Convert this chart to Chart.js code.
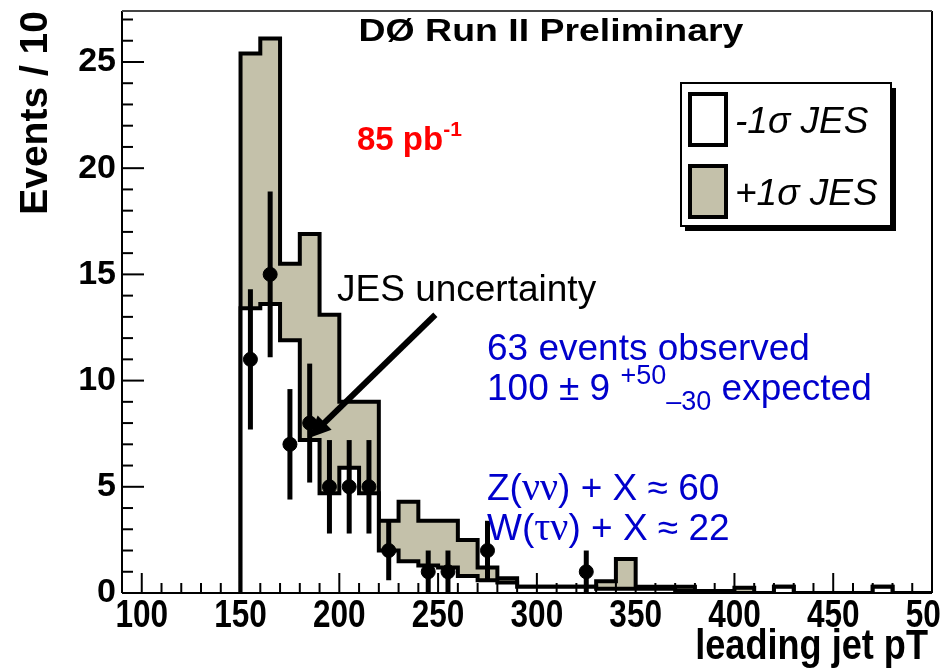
<!DOCTYPE html>
<html>
<head>
<meta charset="utf-8">
<script src="https://cdn.jsdelivr.net/npm/chart.js@4.4.1/dist/chart.umd.min.js"></script>
<style>
  html, body { margin: 0; padding: 0; background: #fff; }
  canvas { display: block; }
</style>
</head>
<body>
<canvas id="canvas" width="940" height="671"></canvas>
<script>
// leading jet pT histogram, 10 GeV bins
const binLow = [150, 160, 170, 180, 190, 200, 210, 220, 230, 240, 250, 260, 270, 280, 290, 300, 310,
                320, 330, 340, 350, 360, 370, 380, 390, 400, 410, 420, 430, 440, 450, 460, 470, 480, 490];
const binWidth = 10;
const jesDown = [13.4, 13.6, 11.9, 7.2, 4.7, 5.9, 4.7, 2.0, 1.5, 1.3, 1.2, 0.8, 0.6, 0.5, 0.3, 0.3, 0.3,
                 0.3, 0.2, 0.2, 0.2, 0.2, 0.1, 0.1, 0.0, 0.0, 0.0, 0.3, 0.0, 0.0, 0.0, 0.0, 0.3, 0.0, 0.0];
const jesUp = [25.4, 26.1, 15.5, 16.9, 13.1, 9.0, 9.0, 3.4, 4.3, 3.4, 3.4, 2.5, 1.2, 0.7, 0.3, 0.3, 0.3,
               0.3, 0.55, 1.6, 0.3, 0.3, 0.3, 0.1, 0.1, 0.25, 0.0, 0.3, 0.0, 0.0, 0.0, 0.0, 0.3, 0.0, 0.0];

// observed events
const dataX = [155, 165, 175, 185, 195, 205, 215, 225, 245, 255, 275, 325];
const dataY = [11, 15, 7, 8, 5, 5, 5, 2, 1, 1, 2, 1];
const dataErr = [3.3, 3.9, 2.6, 2.8, 2.2, 2.2, 2.2, 1.4, 1.0, 1.0, 1.4, 1.0];

const xTicks = [100, 150, 200, 250, 300, 350, 400, 450, 500];
const xTickLabels = ['100', '150', '200', '250', '300', '350', '400', '450', '500'];
const yTicks = [0, 5, 10, 15, 20, 25];

const TAN = '#c4c1aa';
const BLUE = '#0000cc';
const SANS = "'Liberation Sans', Arial, sans-serif";
const SERIF = "'Liberation Serif', 'DejaVu Serif', serif";

function histPoints(values) {
  const pts = [{ x: binLow[0], y: 0 }];
  binLow.forEach((lo, i) => pts.push({ x: lo, y: values[i] }));
  pts.push({ x: binLow[binLow.length - 1] + binWidth, y: 0 });
  return pts;
}

function line(ctx, x1, y1, x2, y2) {
  ctx.beginPath();
  ctx.moveTo(x1, y1);
  ctx.lineTo(x2, y2);
  ctx.stroke();
}

// text squeezed or stretched horizontally by sx
function scaledText(ctx, text, x, y, font, sx, align) {
  ctx.save();
  ctx.translate(x, y);
  ctx.scale(sx, 1);
  ctx.font = font;
  ctx.textAlign = align;
  ctx.textBaseline = 'alphabetic';
  ctx.fillText(text, 0, 0);
  ctx.restore();
}

// ROOT-style ticks inside the frame, plus the frame itself
const frameTicks = {
  id: 'frameTicks',
  afterDatasetsDraw(chart) {
    const { ctx, chartArea: a, scales: { x, y } } = chart;
    ctx.save();
    ctx.strokeStyle = '#000';
    ctx.lineWidth = 2;
    for (let v = x.min; v <= x.max; v += 10) {
      const px = x.getPixelForValue(v);
      const len = xTicks.includes(v) ? 20 : 10;
      line(ctx, px, a.bottom, px, a.bottom - len);
    }
    for (let v = 0; v <= y.max; v += 1) {
      const py = y.getPixelForValue(v);
      const len = yTicks.includes(v) ? 22 : 11;
      line(ctx, a.left, py, a.left + len, py);
    }
    line(ctx, a.left, a.bottom, a.right, a.bottom);
    line(ctx, a.left, a.top, a.left, a.bottom);
    line(ctx, a.right, a.top, a.right, a.bottom);
    ctx.strokeStyle = '#444';
    line(ctx, a.left, a.top, a.right, a.top);
    ctx.restore();
  }
};

// narrow bold x labels and axis title
const xAxisText = {
  id: 'xAxisText',
  afterDraw(chart) {
    const { ctx, chartArea: a, scales: { x } } = chart;
    ctx.save();
    ctx.fillStyle = '#000';
    xTicks.forEach((v, i) => {
      scaledText(ctx, xTickLabels[i], x.getPixelForValue(v), a.bottom + 34, 'bold 38px ' + SANS, 0.83, 'center');
    });
    scaledText(ctx, 'leading jet pT', a.right - 4, 659, 'bold 43px ' + SANS, 0.84, 'right');
    ctx.restore();
  }
};

// vertical and horizontal error bars on the data points
const errorBars = {
  id: 'errorBars',
  afterDatasetsDraw(chart) {
    const { ctx, scales: { x, y } } = chart;
    ctx.save();
    ctx.strokeStyle = '#000';
    dataX.forEach((xv, i) => {
      const px = x.getPixelForValue(xv);
      ctx.lineWidth = 5;
      line(ctx, px, y.getPixelForValue(dataY[i] - dataErr[i]), px, y.getPixelForValue(dataY[i] + dataErr[i]));
      ctx.lineWidth = 3;
      const py = y.getPixelForValue(dataY[i]);
      line(ctx, x.getPixelForValue(xv - 3), py, x.getPixelForValue(xv + 3), py);
    });
    ctx.restore();
  }
};

// legend box with drop shadow
const boxLegend = {
  id: 'boxLegend',
  afterDraw(chart) {
    const ctx = chart.ctx;
    const ds = chart.data.datasets;
    ctx.save();
    ctx.fillStyle = '#000';
    ctx.fillRect(685, 88, 211, 143);
    ctx.fillStyle = '#fff';
    ctx.fillRect(681, 83, 210, 143);
    ctx.strokeStyle = '#000';
    ctx.lineWidth = 2;
    ctx.strokeRect(681, 83, 210, 143);
    const rows = [{ d: ds[0], y: 94 }, { d: ds[1], y: 166 }];
    rows.forEach(r => {
      ctx.fillStyle = r.d.backgroundColor;
      ctx.fillRect(690, r.y, 36, 51);
      ctx.lineWidth = 4;
      ctx.strokeRect(690, r.y, 36, 51);
      ctx.fillStyle = '#000';
      ctx.font = 'italic 37px ' + SANS;
      ctx.textBaseline = 'alphabetic';
      ctx.textAlign = 'left';
      ctx.fillText(r.d.label, 735, r.y + 39);
    });
    ctx.restore();
  }
};

function drawRuns(ctx, x, y, runs, color) {
  ctx.fillStyle = color;
  ctx.textAlign = 'left';
  ctx.textBaseline = 'alphabetic';
  runs.forEach(r => {
    ctx.font = r.font;
    ctx.fillText(r.t, x, y + (r.dy || 0));
    x += ctx.measureText(r.t).width;
  });
}

// texts and the arrow pointing at the JES band
const notes = {
  id: 'notes',
  afterDraw(chart) {
    const { ctx, scales: { x, y } } = chart;
    ctx.save();
    ctx.fillStyle = '#000';
    scaledText(ctx, 'DØ Run II Preliminary', 551, 41, 'bold 32px ' + SANS, 1.17, 'center');

    drawRuns(ctx, 357, 150, [
      { t: '85 pb', font: 'bold 33px ' + SANS },
      { t: '-1', font: 'bold 21px ' + SANS, dy: -14 }
    ], '#ff0000');

    drawRuns(ctx, 337, 301, [{ t: 'JES uncertainty', font: '37px ' + SANS }], '#000');

    // arrow
    const x0 = x.getPixelForValue(248.6), y0 = y.getPixelForValue(13.1);
    const x1 = x.getPixelForValue(184.6), y1 = y.getPixelForValue(7.3);
    const ang = Math.atan2(y1 - y0, x1 - x0);
    ctx.strokeStyle = '#000';
    ctx.lineWidth = 6;
    line(ctx, x0, y0, x1 - 14 * Math.cos(ang), y1 - 14 * Math.sin(ang));
    ctx.beginPath();
    ctx.moveTo(x1, y1);
    ctx.lineTo(x1 - 22 * Math.cos(ang) + 10 * Math.sin(ang), y1 - 22 * Math.sin(ang) - 10 * Math.cos(ang));
    ctx.lineTo(x1 - 22 * Math.cos(ang) - 10 * Math.sin(ang), y1 - 22 * Math.sin(ang) + 10 * Math.cos(ang));
    ctx.closePath();
    ctx.fillStyle = '#000';
    ctx.fill();

    const f = '37px ' + SANS, g = '40px ' + SERIF, s = '27px ' + SANS;
    drawRuns(ctx, 487, 360, [{ t: '63 events observed', font: f }], BLUE);
    drawRuns(ctx, 487, 400, [
      { t: '100 ± 9 ', font: f },
      { t: '+50', font: s, dy: -16 },
      { t: '–30', font: s, dy: 10 },
      { t: ' expected', font: f }
    ], BLUE);
    drawRuns(ctx, 487, 500, [
      { t: 'Z(', font: f }, { t: 'νν', font: g }, { t: ') + X ≈ 60', font: f }
    ], BLUE);
    drawRuns(ctx, 487, 540, [
      { t: 'W(', font: f }, { t: 'τν', font: g }, { t: ') + X ≈ 22', font: f }
    ], BLUE);
    ctx.restore();
  }
};

const ctx = document.getElementById('canvas').getContext('2d');
const myChart = new Chart(ctx, {
  type: 'line',
  data: {
    datasets: [{
      label: '-1σ JES',
      data: histPoints(jesDown),
      stepped: 'before',
      borderColor: '#000',
      borderWidth: 4,
      backgroundColor: '#fff',
      fill: 'origin',
      pointRadius: 0,
      order: 1
    }, {
      label: '+1σ JES',
      data: histPoints(jesUp),
      stepped: 'before',
      borderColor: '#000',
      borderWidth: 4,
      backgroundColor: TAN,
      fill: 'origin',
      pointRadius: 0,
      order: 2
    }, {
      type: 'scatter',
      label: 'data',
      data: dataX.map((v, i) => ({ x: v, y: dataY[i] })),
      pointRadius: 7,
      pointStyle: 'circle',
      backgroundColor: '#000',
      borderColor: '#000',
      order: 0
    }]
  },
  options: {
    responsive: false,
    animation: false,
    layout: { padding: { top: 11, right: 4, left: 0, bottom: 0 } },
    plugins: { legend: { display: false }, tooltip: { enabled: false } },
    scales: {
      x: {
        type: 'linear',
        min: 90,
        max: 500,
        afterBuildTicks: s => { s.ticks = xTicks.map(v => ({ value: v })); },
        afterFit: s => { s.height = 78; s.paddingLeft = 0; s.paddingRight = 0; },
        grid: { display: false, drawTicks: false },
        border: { display: false },
        ticks: { display: false }
      },
      y: {
        min: 0,
        max: 27.4,
        afterBuildTicks: s => { s.ticks = yTicks.map(v => ({ value: v })); },
        afterFit: s => { s.width = 122; s.paddingTop = 0; s.paddingBottom = 0; },
        grid: { display: false, drawTicks: false },
        border: { display: false },
        ticks: {
          color: '#000',
          padding: 6,
          font: { family: SANS, weight: 'bold', size: 34 }
        },
        title: {
          display: true,
          text: 'Events / 10',
          align: 'end',
          color: '#000',
          padding: { top: 13, bottom: 0 },
          font: { family: SANS, weight: 'bold', size: 39 }
        }
      }
    }
  },
  plugins: [frameTicks, errorBars, xAxisText, boxLegend, notes]
});
</script>
</body>
</html>
